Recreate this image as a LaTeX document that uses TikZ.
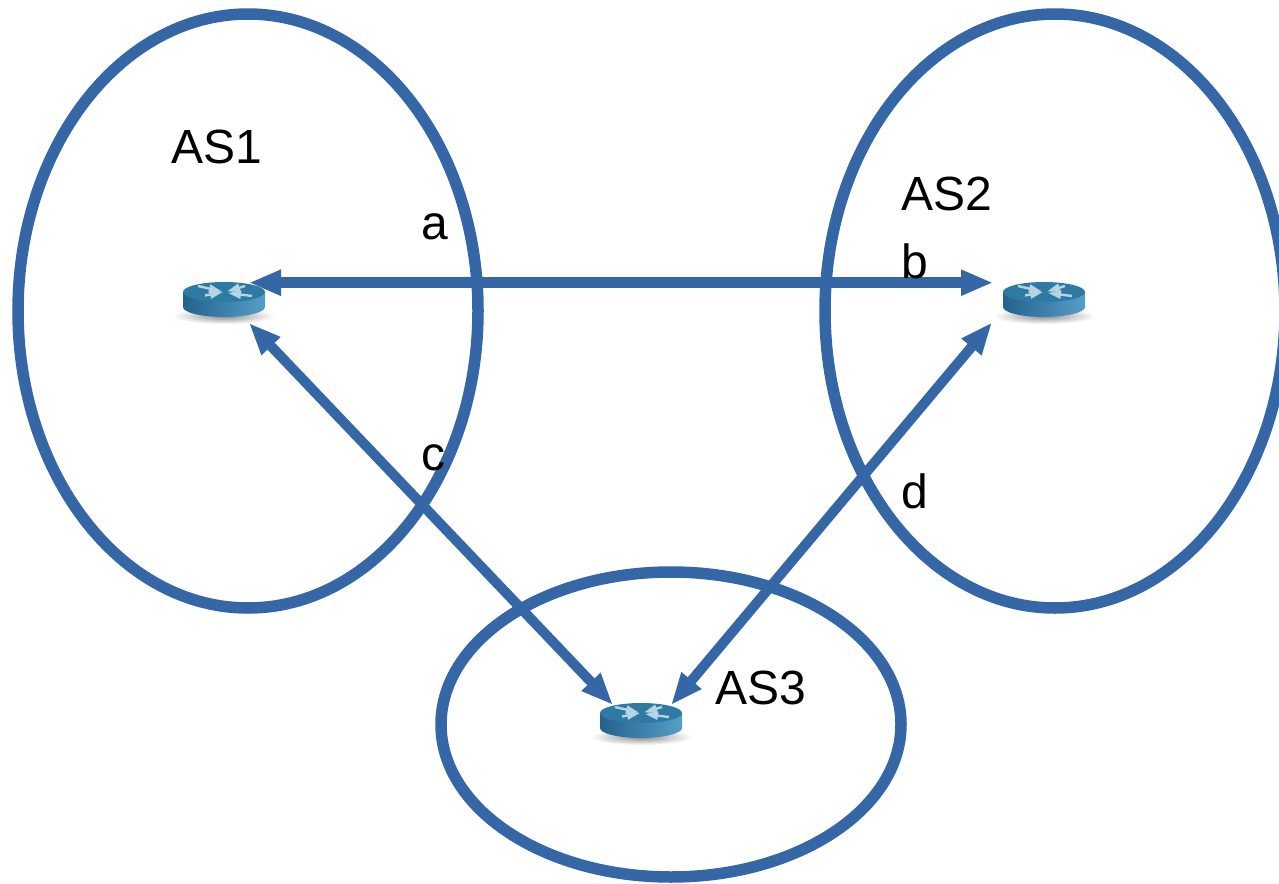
\documentclass[tikz,border=0pt]{standalone}
\usepackage{fontspec}
\setmainfont{Liberation Sans}
\usetikzlibrary{arrows.meta,calc,shapes.geometric}
\definecolor{asblue}{HTML}{3566A6}
\definecolor{rtop}{HTML}{2F7AA3}
\definecolor{rdark}{HTML}{24618F}
\definecolor{rlight}{HTML}{559FC6}
\definecolor{rsym}{HTML}{B5D5E5}
\tikzset{
  asring/.style={shape=ellipse,draw=asblue,line width=11.5pt,fill=none,inner sep=0pt},
  link/.style={draw=asblue,line width=#1,{Triangle[length=32pt,width=24pt]}-{Triangle[length=32pt,width=24pt]}},
  link/.default=10pt,
  tag/.style={font=\fontsize{48}{48}\selectfont,text=black,inner sep=0pt,anchor=base west},
  routerbox/.style={minimum width=82pt,minimum height=34pt,inner sep=0pt,draw=none},
  rsymline/.style={draw=rsym,line width=2.4pt,-{Triangle[length=13pt,width=8pt]}},
  pics/router/.style={code={
    \shade[inner color=black!45,outer color=white,draw=none] (0,24) ellipse [x radius=51pt,y radius=8pt];
    \shade[left color=rdark,right color=rlight,draw=none]
      (-41,0) -- (-41,15) arc[start angle=180,end angle=360,x radius=41pt,y radius=10pt] -- (41,0) -- cycle;
    \fill[rtop] (0,0) ellipse [x radius=41pt,y radius=10pt];
    \draw[rsymline] (-26,-6) -- (-2,-0.5);
    \draw[rsymline] (-19,3.5) -- (-1,0);
    \draw[rsymline] (21,-6) -- (3,-0.5);
    \draw[rsymline] (28,4) -- (4,1);
  }}
}
\begin{document}
\begin{tikzpicture}[x=1pt,y=-1pt]
\useasboundingbox (0,0) rectangle (1279,883);
\clip (0,0) rectangle (1279,883);
% autonomous systems
\node[asring,minimum width=460pt,minimum height=594pt] (as1) at (248,311) {};
\node[asring,minimum width=460pt,minimum height=594pt] (as2) at (1055,311) {};
\node[asring,minimum width=460pt,minimum height=305pt] (as3) at (671,724.5) {};
% routers
\node[routerbox] (r1) at (224,300) {};
\node[routerbox] (r2) at (1044,300) {};
\node[routerbox] (r3) at (641,721) {};
\pic at ($(r1)+(0,-8)$) {router};
\pic at ($(r2)+(0,-8)$) {router};
\pic at ($(r3)+(0,-8)$) {router};
% connector ends
\coordinate (r1a) at ($(r1)+(25,-17.3)$);
\coordinate (r1b) at ($(r1)+(25,23)$);
\coordinate (r2a) at ($(r2)+(-51,-17.3)$);
\coordinate (r2b) at ($(r2)+(-52,22.5)$);
\coordinate (r3a) at ($(r3)+(-28,-16)$);
\coordinate (r3b) at ($(r3)+(30,-16)$);
\draw[link=11.5pt] (r1a) -- (r2a);
\draw[link] (r1b) -- (r3a);
\draw[link] (r2b) -- (r3b);
% labels
\node[tag] (t1) at (171,163) {AS1};
\node[tag] (t2) at (901,210) {AS2};
\node[tag] (t3) at (715,704) {AS3};
\node[tag] (ta) at (421,239.5) {a};
\node[tag] (tb) at (901,278) {b};
\node[tag] (tc) at (421,470) {c};
\node[tag] (td) at (901,508) {d};
\end{tikzpicture}
\end{document}
